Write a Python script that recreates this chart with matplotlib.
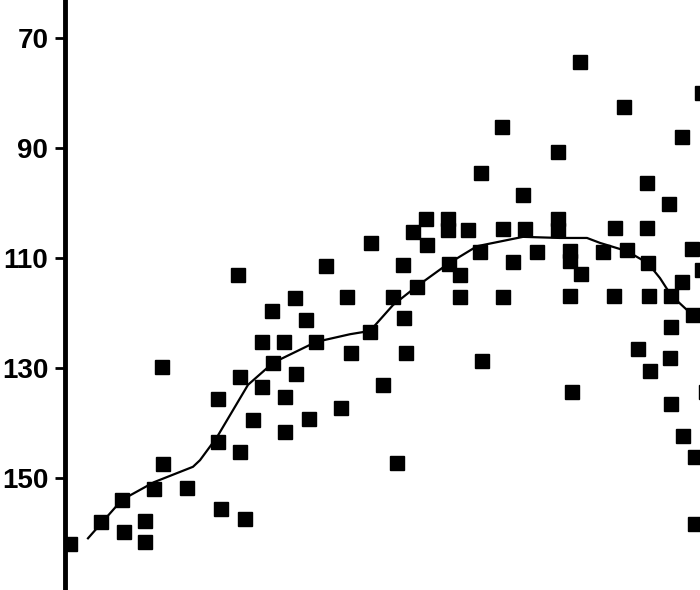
import matplotlib
matplotlib.use("Agg")
import matplotlib.pyplot as plt

# scatter data (x in arbitrary units, y on inverted axis)
pts_x = [0.5, 3.6, 5.9, 5.7, 8.0, 8.0, 8.9, 9.8, 9.7, 12.2,
         15.3, 15.3, 15.6, 17.5, 17.5, 18.0, 17.3, 18.8, 19.7, 19.7,
         20.8, 20.7, 21.9, 22.0, 22.0, 23.1, 23.0, 24.1, 24.4, 25.1,
         26.1, 27.6, 28.2, 28.6, 30.5, 30.6, 31.8, 32.8, 33.2, 33.8,
         33.9, 34.1, 34.8, 35.2, 36.1, 36.2, 38.3, 38.3, 38.4, 39.5,
         39.5, 40.3, 41.6, 41.5, 41.7, 43.7, 43.8, 43.8, 44.8, 45.8,
         46.0, 47.2, 49.3, 49.3, 49.3, 50.5, 50.5, 50.5, 50.7, 51.5,
         51.6, 53.8, 54.9, 55.0, 55.9, 56.2, 57.3, 58.2, 58.2, 58.3,
         58.4, 58.5, 60.4, 60.5, 60.6, 60.6, 60.6, 61.7, 61.7, 61.8,
         62.7, 62.8, 63.0, 63.0, 63.7, 63.7, 64.1]
pts_y = [161.9, 157.9, 159.8, 153.9, 157.8, 161.6, 151.9, 147.4, 129.8, 151.8,
         135.6, 143.4, 155.6, 131.6, 145.2, 157.4, 113.0, 139.4, 133.4, 125.2,
         129.0, 119.6, 125.2, 135.2, 141.6, 131.0, 117.2, 121.2, 139.2, 125.2,
         111.4, 137.2, 117.0, 127.2, 123.4, 107.2, 133.0, 117.0, 147.2, 111.2,
         120.9, 127.2, 105.2, 115.2, 102.9, 107.6, 102.9, 104.9, 111.0, 113.0,
         117.0, 104.9, 94.5, 108.9, 128.7, 86.1, 104.7, 117.0, 110.7, 98.5,
         104.7, 108.9, 90.7, 102.9, 104.9, 108.7, 110.5, 116.9, 134.3, 74.3,
         112.9, 108.9, 116.9, 104.5, 82.5, 108.5, 126.5, 96.3, 104.5, 110.9,
         116.9, 130.5, 100.1, 128.1, 116.9, 122.5, 136.5, 87.9, 114.3, 142.3,
         108.3, 120.3, 146.1, 158.3, 79.9, 112.1, 134.3]

# smoothed curve
curve_x = [2.3, 5.7, 8.9, 12.8, 13.5, 15.2, 16.8, 18.3, 20.8, 25.1,
           28.5, 30.5, 32.8, 35.1, 38.3, 41.2, 45.8, 49.5, 52.2, 53.5,
           56.2, 58.3, 59.5, 60.6, 62.5, 64.0]
curve_y = [160.9, 153.9, 150.7, 147.9, 146.7, 142.5, 137.6, 133.0, 129.0, 125.2,
           123.8, 123.2, 118.5, 115.2, 111.0, 107.8, 106.1, 106.3, 106.3, 107.2,
           108.7, 110.9, 113.6, 116.7, 119.9, 121.6]

yticks = [70, 90, 110, 130, 150]

fig = plt.figure(figsize=(7, 5.9), dpi=100)
ax = fig.add_axes([65 / 700, 0, 635 / 700, 1])

ax.plot(curve_x, curve_y, color="black", lw=1.6, zorder=2)
ax.plot(pts_x, pts_y, ls="none", marker="s", ms=9.5, color="black", zorder=3)

ax.set_xlim(0, 63.5)
ax.set_ylim(170.3, 63.04)
ax.set_yticks(yticks)
ax.set_yticklabels([str(t) for t in yticks], fontsize=20, fontweight="bold",
                   family=["Liberation Sans", "DejaVu Sans"])
ax.tick_params(axis="y", direction="out", length=7, width=2, pad=5, colors="black")
ax.set_xticks([])
for s in ["top", "right", "bottom"]:
    ax.spines[s].set_visible(False)
ax.spines["left"].set_linewidth(3.5)

fig.savefig("out.png", dpi=100)
